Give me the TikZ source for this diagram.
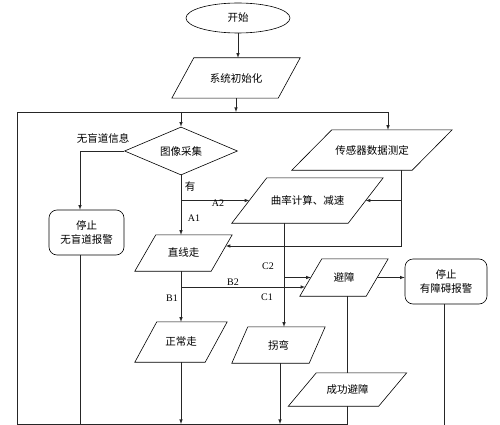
\documentclass[tikz,border=0pt]{standalone}
\usepackage{fontspec}
\setmainfont{Liberation Serif}
\newfontfamily\cjk{Noto Sans CJK SC}
\usepackage{tikz}
\usetikzlibrary{calc, shapes.geometric}
\tikzstyle{flowChart} = [x = 1pt, y = -1pt]
\tikzstyle{boxLine} = [color=black, line width=.6pt]
\tikzstyle{flowLine} = [color=black!85, line width=.6pt]
\tikzstyle{flowArrow} = [flowLine, -latex]
\tikzstyle{boxText} = [font=\cjk\fontsize{10.5}{14}\selectfont, inner sep=0pt, align=center]
\tikzstyle{edgeText} = [font=\fontsize{10}{12}\selectfont, inner sep=1pt]
\tikzstyle{startShape} = [boxText, boxLine, draw, ellipse, minimum width=104pt, minimum height=30pt]
\tikzstyle{decisionShape} = [boxText, boxLine, draw, diamond, aspect=2.35, minimum width=113pt, minimum height=48pt]
\tikzstyle{stopShape} = [boxText, boxLine, draw, rounded corners=8pt]
% parallelogram: name, x, y, edge width, height, slant, text
\newcommand{\ioBox}[7]{
  \node [boxText, minimum width=#4pt, minimum height=#5pt] (#1) at (#2,#3) {#7};
  \draw [boxLine] ($(#1.south west)+(-#6/2,0)$) -- ($(#1.north west)+(#6/2,0)$)
    -- ($(#1.north east)+(#6/2,0)$) -- ($(#1.south east)+(-#6/2,0)$) -- cycle;
}

\begin{document}
\begin{tikzpicture}[flowChart]
  \useasboundingbox (0,0) rectangle (500,425);

  \node [startShape] (start) at (238,18) {开始};
  \ioBox{init}{236}{78}{106}{40}{22}{系统初始化}
  \node [decisionShape] (capture) at (181,151) {图像采集};
  \ioBox{sensor}{372}{150}{120}{40}{40}{传感器数据测定}
  \ioBox{curve}{307.5}{200.5}{116}{45}{35}{曲率计算、减速}
  \ioBox{straight}{183.5}{253}{76}{36}{21}{直线走}
  \ioBox{avoid}{344}{277.5}{66}{37}{22}{避障}
  \ioBox{normal}{181}{342}{70}{40}{22}{正常走}
  \ioBox{turn}{278.5}{345}{77}{36}{16}{拐弯}
  \ioBox{success}{347.5}{389.5}{90}{33}{28}{成功避障}
  \node [stopShape, minimum width=75pt, minimum height=45pt] (stopNo) at (86.5,232.5) {停止\\无盲道报警};
  \node [stopShape, minimum width=82pt, minimum height=45pt] (stopObs) at (446,281.5) {停止\\有障碍报警};

  % main loop
  \coordinate (topLeft) at (17,112);
  \coordinate (topRight) at (388,112);
  \coordinate (bottomLeft) at (17,424);
  \coordinate (sensorOut) at ($(sensor.south)+(29,0)$);
  \coordinate (curveOut) at ($(curve.south)+(-23.5,0)$);
  \coordinate (straightIn) at ($(straight.east)+(4,-7)$);
  \coordinate (avoidIn) at ($(avoid.west)+(-5.6,9.5)$);
  \coordinate (turnOut) at ($(turn.south)+(1.5,0)$);

  \draw [flowArrow] (start.south) -- (start.south |- init.north);
  \draw [flowArrow] (init.south) -- (init.south |- topLeft);
  \draw [flowArrow] (bottomLeft) -- (topLeft) -- (topRight) -- (topRight |- sensor.north);
  \draw [flowArrow] (capture.north |- topLeft) -- (capture.north);

  \draw [flowArrow] (capture.west) -| (stopNo.north -| 80,0);
  \node [boxText] (noLine) at (103,138) {无盲道信息};
  \draw [flowLine] (stopNo.south -| 80,0) -- (80,424);

  \draw [flowArrow] (capture.south) -- (capture.south |- straight.north);
  \node [boxText] (yes) at (190,187) {有};
  \draw [flowArrow] (capture.south |- curve.west) -- (curve.west);
  \node [edgeText] (aTwo) at (218,203) {A2};
  \node [edgeText] (aOne) at (194,218) {A1};

  \draw [flowArrow] (sensorOut) |- (straightIn);
  \draw [flowArrow] (sensorOut |- curve.east) -- (curve.east);

  \draw [flowArrow] (normal.north |- straight.south) -- (normal.north);
  \node [edgeText] (bOne) at (172,298) {B1};
  \draw [flowArrow] (normal.north |- avoidIn) -- (avoidIn);
  \node [edgeText] (bTwo) at (233,282) {B2};

  \draw [flowArrow] (curveOut) -- (curveOut |- turn.north);
  \draw [flowArrow] (curveOut |- avoid.west) -- (avoid.west);
  \node [edgeText] (cTwo) at (268,266) {C2};
  \node [edgeText] (cOne) at (267,297) {C1};

  \draw [flowArrow] (avoid.east) -- (avoid.east -| stopObs.west);
  \draw [flowLine] (success.north |- avoid.south) -- (success.north);
  \draw [flowLine] (success.south) -- (success.south |- bottomLeft) -- (bottomLeft);
  \draw [flowLine] (stopObs.south -| 444,0) -- (444,425);

  \draw [flowArrow] (normal.south) -- (normal.south |- bottomLeft);
  \draw [flowArrow] (turnOut) -- (turnOut |- bottomLeft);
\end{tikzpicture}
\end{document}
